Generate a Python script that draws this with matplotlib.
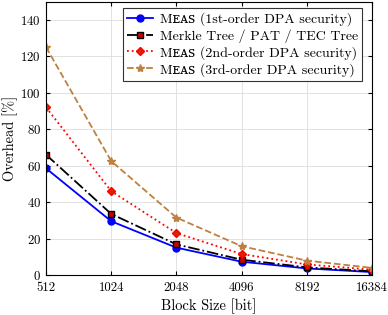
import matplotlib
matplotlib.use("Agg")
from matplotlib import pyplot as plt

block_sizes = [512, 1024, 2048, 4096, 8192, 16384]
meas_1st = [58.5, 29.5, 15.0, 7.3, 3.6, 1.6]
merkle = [66.0, 33.5, 16.8, 8.4, 4.2, 2.0]
meas_2nd = [92.0, 46.0, 23.0, 11.5, 5.8, 2.9]
meas_3rd = [125.0, 62.5, 31.5, 15.8, 7.9, 3.9]

plt.rcParams["font.family"] = ["cmr10", "DejaVu Serif"]
plt.rcParams["mathtext.fontset"] = "cm"
plt.rcParams["axes.formatter.use_mathtext"] = True

meas = "M\u1d07\u1d00\ua731"

fig = plt.figure(figsize=(3.88, 3.15), dpi=100)
ax = fig.add_axes([0.1186, 0.127, 0.840, 0.868])

ax.plot(block_sizes, meas_1st, color="blue", lw=1.3, ls="-", marker="o", ms=5,
        label=f"{meas} (1st-order DPA security)")
ax.plot(block_sizes, merkle, color="black", lw=1.3, ls="-.", marker="s", ms=4.5,
        mfc="#cc0000", mec="black", label="Merkle Tree / PAT / TEC Tree")
ax.plot(block_sizes, meas_2nd, color="red", lw=1.3, ls=":", marker="D", ms=4.5,
        mfc="#dd2200", mec="red", label=f"{meas} (2nd-order DPA security)")
ax.plot(block_sizes, meas_3rd, color="#bf8040", lw=1.3, ls="--", marker="*", ms=6,
        label=f"{meas} (3rd-order DPA security)")

ax.set_xscale("log", base=2)
ax.set_xlim(512, 16384)
ax.set_ylim(0, 150)
ax.set_xticks(block_sizes)
ax.set_xticklabels([str(b) for b in block_sizes])
ax.minorticks_off()
ax.set_yticks(range(0, 141, 20))
ax.grid(True, color="#dddddd", lw=0.6)
ax.tick_params(direction="in", top=True, right=True, labelsize=9.3, length=3)
ax.tick_params(axis="x", pad=5)
for s in ax.spines.values():
    s.set_linewidth(0.8)

ax.set_xlabel("Block Size [bit]", fontsize=10.4, labelpad=3)
ax.set_ylabel("Overhead [%]", fontsize=10.4)
ax.yaxis.set_label_coords(-0.087, 0.5)

leg = ax.legend(loc="upper right", fontsize=10.0, fancybox=False, framealpha=1,
                edgecolor="#333333", borderpad=0.3, labelspacing=0.22,
                handlelength=1.9, handletextpad=0.45, borderaxespad=0,
                bbox_to_anchor=(0.969, 0.975))
leg.get_frame().set_linewidth(0.8)

fig.savefig("out.png", dpi=100)
